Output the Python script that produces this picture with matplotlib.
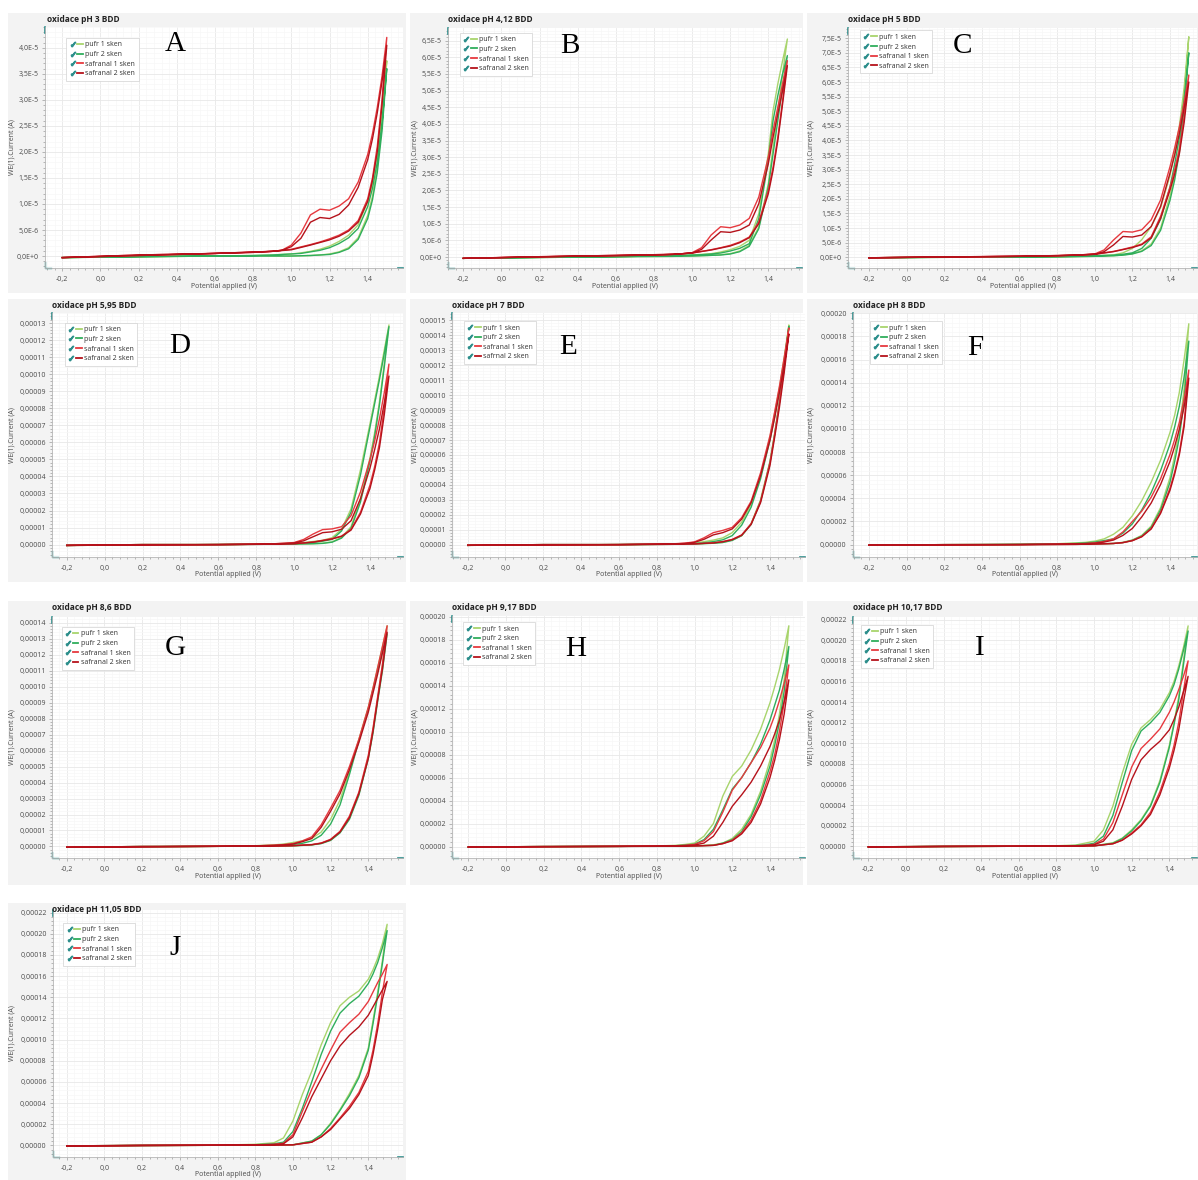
import matplotlib
matplotlib.use("Agg")
import matplotlib.pyplot as plt
from matplotlib.lines import Line2D
from matplotlib.patches import Rectangle
from matplotlib.legend_handler import HandlerTuple
from matplotlib.ticker import MultipleLocator, AutoMinorLocator, FuncFormatter

plt.rcParams["font.family"] = ["Open Sans", "DejaVu Sans"]

FIG_W, FIG_H = 1198, 1180

# sampled potentials (V): forward sweep up to 1.5 V, then the reverse sweep
E_FWD = [-0.2, 0.2, 0.6, 0.8, 0.9, 0.95, 1.0, 1.05, 1.1, 1.15, 1.2, 1.25,
         1.3, 1.35, 1.4, 1.425, 1.45, 1.475, 1.5]
E_REV = [1.5, 1.475, 1.45, 1.425, 1.4, 1.35, 1.3, 1.25, 1.2, 1.15, 1.1,
         1.0, 0.9, 0.6, -0.2]

LABELS = ["pufr 1 sken", "pufr 2 sken", "safranal 1 sken", "safranal 2 sken"]
LABELS_PH7 = ["pufr 1 sken", "pufr 2 sken", "safranal 1 sken", "safrnal 2 sken"]
COLORS = ["#a8d46c", "#2fae5c", "#e6393f", "#b5121b"]

TITLES = ["oxidace pH 3 BDD", "oxidace pH 4,12 BDD", "oxidace pH 5 BDD",
          "oxidace pH 5,95 BDD", "oxidace pH 7 BDD", "oxidace pH 8 BDD",
          "oxidace pH 8,6 BDD", "oxidace pH 9,17 BDD", "oxidace pH 10,17 BDD",
          "oxidace pH 11,05 BDD"]
LETTERS = ["A", "B", "C", "D", "E", "F", "G", "H", "I", "J"]

# currents, rows = pufr 1, pufr 2, safranal 1, safranal 2
# A-C in uA (1e-6 A), D-J in units of 1e-5 A
A_FWD = [[-0.3, -0.1, 0.0, 0.1, 0.2, 0.3, 0.4, 0.6, 0.9, 1.3, 1.9, 2.8, 4.0, 6.0, 10.5, 14.0, 19.5, 27.0, 37.5],
         [-0.3, -0.1, 0.0, 0.1, 0.2, 0.3, 0.4, 0.5, 0.8, 1.1, 1.6, 2.4, 3.5, 5.3, 9.5, 13.0, 18.0, 25.5, 36.0],
         [-0.3, 0.2, 0.5, 0.7, 0.9, 1.1, 2.1, 4.4, 7.9, 9.0, 8.8, 9.6, 11.0, 14.2, 19.5, 23.5, 28.5, 34.5, 42.0],
         [-0.3, 0.2, 0.5, 0.7, 0.9, 1.1, 1.8, 3.4, 6.5, 7.4, 7.2, 8.0, 9.8, 13.2, 18.5, 22.5, 27.5, 33.5, 40.5]]
A_REV = [[37.5, 25.0, 17.0, 11.5, 7.8, 3.5, 1.6, 0.8, 0.4, 0.2, 0.1, 0.0, 0.0, 0.0, -0.3],
         [36.0, 24.0, 16.0, 10.8, 7.2, 3.2, 1.4, 0.7, 0.3, 0.2, 0.1, 0.0, 0.0, 0.0, -0.3],
         [42.0, 30.0, 21.0, 15.0, 11.0, 6.8, 5.0, 4.0, 3.3, 2.7, 2.2, 1.3, 0.9, 0.5, -0.3],
         [40.5, 29.0, 20.0, 14.5, 10.5, 6.5, 4.8, 3.8, 3.1, 2.6, 2.1, 1.2, 0.9, 0.5, -0.3]]

B_FWD = [[-0.4, -0.1, 0.1, 0.3, 0.4, 0.5, 0.6, 0.8, 1.0, 1.5, 2.2, 3.2, 5.0, 13.0, 31.0, 44.0, 52.0, 59.0, 65.5],
         [-0.4, -0.1, 0.1, 0.3, 0.4, 0.5, 0.6, 0.7, 0.9, 1.2, 1.8, 2.6, 4.0, 11.5, 29.0, 41.0, 48.5, 55.0, 60.5],
         [-0.4, 0.1, 0.4, 0.6, 0.8, 1.0, 1.3, 2.8, 6.6, 9.1, 8.8, 9.6, 11.6, 18.0, 30.0, 38.0, 45.0, 52.0, 59.0],
         [-0.4, 0.1, 0.4, 0.6, 0.8, 1.0, 1.2, 2.3, 5.1, 7.6, 7.4, 8.1, 9.6, 16.0, 28.0, 36.0, 43.0, 50.0, 57.5]]
B_REV = [[65.5, 55.0, 44.0, 33.0, 22.0, 9.0, 3.5, 1.8, 1.0, 0.7, 0.5, 0.3, 0.2, 0.1, -0.4],
         [60.5, 51.0, 41.0, 31.0, 21.0, 8.5, 3.2, 1.6, 0.9, 0.6, 0.5, 0.3, 0.2, 0.1, -0.4],
         [59.0, 47.0, 36.0, 27.0, 20.0, 10.5, 6.0, 4.5, 3.5, 2.8, 2.2, 1.2, 0.8, 0.5, -0.4],
         [57.5, 46.0, 35.0, 26.0, 19.0, 10.0, 5.8, 4.3, 3.3, 2.7, 2.1, 1.2, 0.8, 0.5, -0.4]]

C_FWD = [[-0.2, 0.0, 0.1, 0.2, 0.3, 0.4, 0.5, 0.6, 0.8, 1.5, 3.0, 6.0, 10.5, 17.0, 28.0, 36.0, 45.0, 58.0, 75.5],
         [-0.2, 0.0, 0.1, 0.2, 0.3, 0.4, 0.5, 0.6, 0.7, 1.0, 1.5, 3.0, 6.5, 13.0, 24.0, 32.0, 41.0, 54.0, 70.0],
         [-0.2, 0.1, 0.3, 0.5, 0.7, 0.9, 1.1, 2.5, 5.9, 8.8, 8.6, 9.4, 12.8, 19.6, 31.0, 37.5, 44.7, 53.0, 62.4],
         [-0.2, 0.1, 0.3, 0.5, 0.7, 0.9, 1.0, 1.9, 4.2, 7.1, 6.9, 7.6, 10.5, 17.4, 28.8, 35.0, 42.5, 51.0, 60.0]]
C_REV = [[75.5, 55.0, 38.0, 28.0, 21.0, 10.0, 4.5, 2.2, 1.2, 0.8, 0.5, 0.3, 0.2, 0.1, -0.2],
         [70.0, 51.0, 36.0, 26.5, 19.5, 9.2, 4.0, 2.0, 1.1, 0.7, 0.5, 0.3, 0.2, 0.1, -0.2],
         [62.4, 48.0, 37.0, 30.0, 24.0, 14.0, 7.0, 4.5, 3.5, 2.7, 2.0, 1.0, 0.7, 0.3, -0.2],
         [60.0, 46.0, 35.5, 28.5, 23.0, 13.3, 6.6, 4.3, 3.3, 2.6, 1.9, 1.0, 0.7, 0.3, -0.2]]

D_FWD = [[-0.05, 0.0, 0.0, 0.02, 0.04, 0.06, 0.08, 0.12, 0.18, 0.25, 0.4, 0.9, 2.1, 4.4, 7.1, 8.5, 9.9, 11.4, 12.9],
         [-0.05, 0.0, 0.0, 0.02, 0.03, 0.05, 0.06, 0.09, 0.13, 0.2, 0.3, 0.8, 1.9, 4.1, 6.9, 8.3, 9.7, 11.2, 12.8],
         [-0.05, 0.0, 0.0, 0.02, 0.05, 0.08, 0.12, 0.3, 0.62, 0.88, 0.92, 1.05, 1.7, 3.1, 5.0, 6.1, 7.4, 8.9, 10.6],
         [-0.05, 0.0, 0.0, 0.02, 0.05, 0.07, 0.1, 0.22, 0.46, 0.7, 0.75, 0.9, 1.4, 2.7, 4.5, 5.6, 6.8, 8.3, 9.9]]
D_REV = [[12.9, 10.6, 8.4, 6.6, 5.1, 2.7, 1.05, 0.42, 0.16, 0.08, 0.05, 0.03, 0.02, 0.0, -0.05],
         [12.8, 10.4, 8.2, 6.4, 4.9, 2.5, 0.95, 0.38, 0.14, 0.07, 0.05, 0.03, 0.02, 0.0, -0.05],
         [10.6, 8.0, 6.0, 4.6, 3.5, 1.9, 0.9, 0.5, 0.35, 0.25, 0.15, 0.05, 0.02, 0.0, -0.05],
         [9.9, 7.6, 5.7, 4.4, 3.3, 1.8, 0.85, 0.48, 0.33, 0.23, 0.14, 0.05, 0.02, 0.0, -0.05]]

E_FWD_I = [[-0.05, 0.0, 0.0, 0.02, 0.04, 0.06, 0.1, 0.2, 0.3, 0.45, 0.8, 1.5, 2.7, 4.6, 7.2, 8.8, 10.5, 12.5, 14.7],
           [-0.05, 0.0, 0.0, 0.02, 0.03, 0.05, 0.07, 0.12, 0.2, 0.32, 0.6, 1.3, 2.5, 4.4, 7.0, 8.6, 10.3, 12.3, 14.6],
           [-0.05, 0.0, 0.0, 0.03, 0.06, 0.1, 0.18, 0.45, 0.8, 0.95, 1.15, 1.8, 2.9, 4.8, 7.3, 8.9, 10.6, 12.5, 14.5],
           [-0.05, 0.0, 0.0, 0.03, 0.05, 0.08, 0.15, 0.35, 0.65, 0.8, 1.05, 1.7, 2.8, 4.6, 7.0, 8.5, 10.2, 12.0, 14.1]]
E_REV_I = [[14.7, 11.9, 9.6, 7.5, 5.6, 3.0, 1.4, 0.6, 0.3, 0.15, 0.1, 0.04, 0.02, 0.0, -0.05],
           [14.6, 11.8, 9.5, 7.4, 5.5, 2.9, 1.35, 0.6, 0.28, 0.14, 0.09, 0.04, 0.02, 0.0, -0.05],
           [14.5, 11.8, 9.5, 7.4, 5.5, 2.9, 1.4, 0.65, 0.35, 0.2, 0.12, 0.05, 0.02, 0.0, -0.05],
           [14.1, 11.5, 9.2, 7.2, 5.3, 2.8, 1.35, 0.62, 0.33, 0.19, 0.11, 0.05, 0.02, 0.0, -0.05]]

F_FWD = [[-0.05, 0.0, 0.02, 0.08, 0.15, 0.2, 0.3, 0.5, 0.9, 1.5, 2.5, 3.8, 5.4, 7.3, 9.7, 11.2, 13.2, 16.0, 19.1],
         [-0.05, 0.0, 0.02, 0.06, 0.1, 0.15, 0.22, 0.35, 0.5, 1.0, 1.8, 3.0, 4.5, 6.4, 8.7, 10.2, 12.0, 14.5, 17.6],
         [-0.05, 0.0, 0.01, 0.04, 0.07, 0.1, 0.15, 0.28, 0.5, 1.1, 2.0, 2.9, 4.1, 5.7, 7.8, 9.1, 10.6, 12.6, 15.1],
         [-0.05, 0.0, 0.01, 0.04, 0.06, 0.08, 0.12, 0.22, 0.4, 0.8, 1.4, 2.4, 3.6, 5.2, 7.2, 8.5, 10.0, 11.9, 14.4]]
F_REV = [[19.1, 13.5, 10.0, 7.7, 5.8, 3.2, 1.6, 0.8, 0.4, 0.2, 0.1, 0.05, 0.03, 0.01, -0.05],
         [17.6, 12.5, 9.3, 7.2, 5.4, 3.0, 1.5, 0.75, 0.38, 0.18, 0.1, 0.05, 0.03, 0.01, -0.05],
         [15.1, 10.5, 8.0, 6.3, 4.9, 2.8, 1.4, 0.7, 0.35, 0.18, 0.1, 0.05, 0.02, 0.0, -0.05],
         [14.4, 10.2, 7.8, 6.1, 4.7, 2.7, 1.35, 0.68, 0.34, 0.17, 0.1, 0.05, 0.02, 0.0, -0.05]]

G_FWD = [[-0.05, 0.0, 0.01, 0.05, 0.1, 0.15, 0.25, 0.35, 0.5, 0.9, 1.7, 2.9, 4.7, 6.7, 8.7, 9.9, 11.2, 12.5, 13.8],
         [-0.05, 0.0, 0.01, 0.03, 0.05, 0.08, 0.12, 0.2, 0.35, 0.7, 1.4, 2.6, 4.5, 6.6, 8.6, 9.8, 11.0, 12.2, 13.3],
         [-0.05, 0.0, 0.01, 0.04, 0.08, 0.12, 0.18, 0.35, 0.6, 1.35, 2.4, 3.5, 5.0, 6.7, 8.7, 9.9, 11.2, 12.5, 13.8],
         [-0.05, 0.0, 0.01, 0.04, 0.07, 0.1, 0.15, 0.3, 0.5, 1.2, 2.2, 3.3, 4.8, 6.5, 8.4, 9.6, 10.8, 12.1, 13.4]]
G_REV = [[13.8, 11.3, 9.3, 7.3, 5.6, 3.3, 1.8, 0.9, 0.4, 0.2, 0.1, 0.04, 0.02, 0.01, -0.05],
         [13.3, 11.0, 9.1, 7.1, 5.5, 3.2, 1.7, 0.85, 0.38, 0.18, 0.1, 0.04, 0.02, 0.01, -0.05],
         [13.8, 11.4, 9.4, 7.4, 5.7, 3.4, 1.9, 0.95, 0.45, 0.22, 0.12, 0.05, 0.02, 0.01, -0.05],
         [13.4, 11.1, 9.2, 7.2, 5.5, 3.3, 1.8, 0.9, 0.42, 0.2, 0.11, 0.05, 0.02, 0.01, -0.05]]

H_FWD = [[-0.05, 0.0, 0.02, 0.05, 0.1, 0.18, 0.3, 0.9, 2.0, 4.4, 6.1, 7.0, 8.4, 10.2, 12.5, 13.9, 15.4, 17.2, 19.2],
         [-0.05, 0.0, 0.01, 0.04, 0.07, 0.12, 0.2, 0.6, 1.5, 3.2, 5.0, 6.0, 7.3, 8.9, 11.0, 12.3, 13.6, 15.4, 17.4],
         [-0.05, 0.0, 0.01, 0.04, 0.07, 0.1, 0.18, 0.5, 1.3, 3.0, 4.9, 6.0, 7.3, 8.6, 10.3, 11.4, 12.7, 14.2, 15.8],
         [-0.05, 0.0, 0.01, 0.03, 0.05, 0.08, 0.12, 0.3, 0.9, 2.1, 3.5, 4.5, 5.6, 7.0, 8.7, 9.8, 11.0, 12.6, 14.5]]
H_REV = [[19.2, 14.5, 11.5, 9.3, 7.5, 4.8, 2.8, 1.5, 0.7, 0.3, 0.15, 0.05, 0.03, 0.01, -0.05],
         [17.4, 13.5, 10.8, 8.8, 7.0, 4.5, 2.6, 1.3, 0.6, 0.3, 0.1, 0.05, 0.03, 0.01, -0.05],
         [15.8, 12.5, 10.0, 8.0, 6.5, 4.0, 2.3, 1.2, 0.55, 0.25, 0.1, 0.05, 0.02, 0.01, -0.05],
         [14.5, 11.5, 9.3, 7.5, 6.0, 3.7, 2.1, 1.1, 0.5, 0.25, 0.1, 0.05, 0.02, 0.01, -0.05]]

I_FWD = [[-0.05, 0.0, 0.02, 0.06, 0.12, 0.3, 0.5, 1.6, 3.9, 7.1, 9.9, 11.5, 12.3, 13.3, 14.9, 16.0, 17.5, 19.3, 21.4],
         [-0.05, 0.0, 0.01, 0.04, 0.08, 0.15, 0.3, 1.0, 3.0, 6.2, 9.3, 11.2, 12.0, 13.0, 14.6, 15.7, 17.2, 19.0, 20.9],
         [-0.05, 0.0, 0.01, 0.03, 0.06, 0.1, 0.2, 0.7, 2.3, 5.0, 7.7, 9.5, 10.4, 11.4, 13.0, 14.0, 15.2, 16.5, 18.0],
         [-0.05, 0.0, 0.01, 0.03, 0.05, 0.08, 0.15, 0.5, 1.6, 3.9, 6.5, 8.4, 9.4, 10.2, 11.3, 12.3, 13.5, 15.0, 16.5]]
I_REV = [[21.4, 18.0, 14.5, 12.0, 9.8, 6.4, 4.0, 2.6, 1.6, 0.8, 0.35, 0.05, 0.03, 0.01, -0.05],
         [20.9, 17.6, 14.2, 11.8, 9.6, 6.2, 3.9, 2.5, 1.5, 0.75, 0.3, 0.05, 0.03, 0.01, -0.05],
         [18.0, 15.0, 12.0, 9.8, 8.0, 5.3, 3.3, 2.1, 1.3, 0.6, 0.25, 0.05, 0.02, 0.01, -0.05],
         [16.5, 14.0, 11.3, 9.3, 7.6, 5.0, 3.1, 2.0, 1.2, 0.6, 0.25, 0.05, 0.02, 0.01, -0.05]]

J_FWD = [[-0.05, 0.0, 0.02, 0.1, 0.25, 0.7, 2.3, 4.8, 7.0, 9.5, 11.6, 13.2, 14.0, 14.6, 15.7, 16.6, 17.7, 19.1, 20.9],
         [-0.05, 0.0, 0.01, 0.06, 0.15, 0.3, 1.3, 3.5, 6.0, 8.6, 10.8, 12.5, 13.4, 14.1, 15.3, 16.2, 17.3, 18.7, 20.3],
         [-0.05, 0.0, 0.01, 0.05, 0.1, 0.2, 1.0, 3.2, 5.3, 7.2, 9.0, 10.7, 11.6, 12.4, 13.6, 14.5, 15.4, 16.2, 17.1],
         [-0.05, 0.0, 0.01, 0.04, 0.08, 0.15, 0.8, 2.6, 4.6, 6.3, 8.0, 9.4, 10.4, 11.2, 12.3, 13.1, 13.9, 14.7, 15.5]]
J_REV = [[20.9, 17.5, 14.5, 11.8, 9.2, 6.6, 4.9, 3.4, 2.1, 1.0, 0.4, 0.05, 0.03, 0.01, -0.05],
         [20.3, 17.2, 14.2, 11.5, 9.0, 6.4, 4.7, 3.3, 2.0, 1.0, 0.4, 0.05, 0.03, 0.01, -0.05],
         [17.1, 14.5, 11.5, 9.0, 7.0, 5.0, 3.7, 2.6, 1.6, 0.8, 0.3, 0.05, 0.02, 0.01, -0.05],
         [15.5, 13.8, 11.0, 8.6, 6.6, 4.8, 3.5, 2.5, 1.5, 0.8, 0.3, 0.05, 0.02, 0.01, -0.05]]

FWD = [A_FWD, B_FWD, C_FWD, D_FWD, E_FWD_I, F_FWD, G_FWD, H_FWD, I_FWD, J_FWD]
REV = [A_REV, B_REV, C_REV, D_REV, E_REV_I, F_REV, G_REV, H_REV, I_REV, J_REV]
UNIT = [1e-6, 1e-6, 1e-6, 1e-5, 1e-5, 1e-5, 1e-5, 1e-5, 1e-5, 1e-5]
Y_STEP = [5e-6, 5e-6, 5e-6, 1e-5, 1e-5, 2e-5, 1e-5, 2e-5, 2e-5, 2e-5]
Y_LIM = [(-2.3e-6, 4.4e-5), (-3.3e-6, 6.88e-5), (-3.7e-6, 7.85e-5),
         (-7.3e-6, 1.36e-4), (-8.3e-6, 1.55e-4), (-1.07e-5, 2.003e-4),
         (-7.2e-6, 1.435e-4), (-1.0e-5, 2.005e-4), (-1.13e-5, 2.226e-4),
         (-1.1e-5, 2.225e-4)]

# pixel layout of each screenshot panel
# frame (x0, y0, x1, y1), axes (left, right, top, bottom), x of -0.2 and 1.4 ticks,
# title (x, y), letter (x, y), legend anchor in axes fraction
LAYOUT = [
    dict(frame=(8, 13, 406, 293), ax=(45, 403, 27, 268), xcal=(62.3, 367.7), title=(47, 19), letter=(175, 44), leg=(0.06, 0.955)),
    dict(frame=(410, 13, 803, 293), ax=(448, 802, 28, 268), xcal=(463.3, 768.3), title=(448, 19), letter=(570, 46), leg=(0.034, 0.98)),
    dict(frame=(807, 13, 1198, 293), ax=(848, 1197, 28, 268), xcal=(869, 1170), title=(848, 19), letter=(963, 46), leg=(0.034, 0.99)),
    dict(frame=(8, 299, 406, 582), ax=(52, 403, 313, 557), xcal=(66.7, 370), title=(52, 306), letter=(180, 346), leg=(0.037, 0.96)),
    dict(frame=(410, 299, 803, 582), ax=(452, 805, 313, 557), xcal=(467.7, 770), title=(452, 305), letter=(568, 347), leg=(0.034, 0.967)),
    dict(frame=(807, 299, 1198, 582), ax=(853, 1197, 313, 557), xcal=(869, 1170), title=(853, 305), letter=(975, 348), leg=(0.049, 0.967)),
    dict(frame=(8, 601, 406, 885), ax=(52, 403, 617, 858), xcal=(66.7, 368.3), title=(52, 608), letter=(175, 648), leg=(0.028, 0.959)),
    dict(frame=(410, 601, 803, 885), ax=(452, 805, 616, 858), xcal=(468.3, 770), title=(452, 608), letter=(576, 649), leg=(0.031, 0.975)),
    dict(frame=(807, 601, 1198, 885), ax=(853, 1197, 617, 858), xcal=(868.3, 1169.3), title=(853, 608), letter=(980, 648), leg=(0.023, 0.967)),
    dict(frame=(8, 903, 406, 1180), ax=(53, 403, 910, 1157), xcal=(66.7, 368.3), title=(52, 910), letter=(175, 948), leg=(0.029, 0.948)),
]

TEAL = "#2e8f8c"


def sci_label(v, pos):
    if abs(v) < 1e-12:
        return "0,0E+0"
    mant, exp = f"{v:.1E}".split("E")
    exp = int(exp)
    exp_txt = f"+{exp}" if exp >= 0 else str(exp)
    return f"{mant.replace('.', ',')}E{exp_txt}"


def fixed_label(v, pos):
    if abs(v) < 1e-12:
        v = 0.0
    return f"{v:.5f}".replace(".", ",")


def x_label(v, pos):
    if abs(v) < 1e-9:
        v = 0.0
    return f"{v:.1f}".replace(".", ",")


def fx(x):
    return x / FIG_W


def fy(y):
    return 1 - y / FIG_H


fig = plt.figure(figsize=(FIG_W / 100, FIG_H / 100), dpi=100)
fig.patch.set_facecolor("white")

for i, lay in enumerate(LAYOUT):
    x0, y0, x1, y1 = lay["frame"]
    fig.add_artist(Rectangle((fx(x0), fy(y1)), fx(x1 - x0), (y1 - y0) / FIG_H,
                             transform=fig.transFigure, facecolor="#f3f3f3",
                             edgecolor="none", zorder=-5))

    left, right, top, bottom = lay["ax"]
    ax = fig.add_axes([fx(left), fy(bottom), fx(right - left), (bottom - top) / FIG_H])
    ax.set_facecolor("white")

    # x range from the tick calibration of the screenshot
    xa, xb = lay["xcal"]
    px_per_v = (xb - xa) / 1.6
    ax.set_xlim(-0.2 - (xa - left) / px_per_v, 1.4 + (right - xb) / px_per_v)
    ax.set_ylim(*Y_LIM[i])

    labels = LABELS_PH7 if i == 4 else LABELS
    for k in range(4):
        e = E_FWD + E_REV
        cur = [v * UNIT[i] for v in FWD[i][k] + REV[i][k]]
        ax.plot(e, cur, color=COLORS[k], lw=1.0, label=labels[k], zorder=3 + k,
                solid_joinstyle="round")

    for side in ["top", "right"]:
        ax.spines[side].set_visible(False)
    for side in ["left", "bottom"]:
        ax.spines[side].set_color("#b5b5b5")
        ax.spines[side].set_linewidth(0.6)

    ax.xaxis.set_major_locator(MultipleLocator(0.2))
    ax.xaxis.set_minor_locator(AutoMinorLocator(5))
    ax.xaxis.set_major_formatter(FuncFormatter(x_label))
    ax.yaxis.set_major_locator(MultipleLocator(Y_STEP[i]))
    ax.yaxis.set_minor_locator(AutoMinorLocator(5))
    ax.yaxis.set_major_formatter(FuncFormatter(sci_label if i < 3 else fixed_label))

    ax.tick_params(which="both", direction="out", color="#9c9c9c", width=0.5,
                   labelsize=5, labelcolor="#4a4a4a")
    ax.tick_params(which="major", length=2.5)
    ax.tick_params(which="minor", length=1.5)
    ax.tick_params(axis="x", pad=3)
    ax.tick_params(axis="y", pad=2)

    ax.grid(which="major", color="#e8e8e8", lw=0.6)
    ax.grid(which="minor", color="#f7f7f7", lw=0.5)
    ax.set_axisbelow(True)

    w_px = right - left
    h_px = bottom - top
    ax.set_xlabel("Potential applied (V)", fontsize=5, color="#4a4a4a")
    ax.xaxis.set_label_coords(0.5, -14.5 / h_px)
    ax.set_ylabel("WE(1).Current (A)", fontsize=5, color="#4a4a4a")
    ax.yaxis.set_label_coords(-(left - x0 - 8) / w_px, 0.5)

    # little teal end markers of the axes, as in the software screenshots
    ax.plot([0, 0], [1, 1 - 6 / h_px], transform=ax.transAxes, color=TEAL,
            lw=1.2, clip_on=False)
    ax.plot([0, 0, 6 / w_px], [6 / h_px, 0, 0], transform=ax.transAxes,
            color=TEAL, lw=1.0, clip_on=False)
    ax.plot([1 - 5 / w_px, 1], [0, 0], transform=ax.transAxes, color=TEAL,
            lw=1.2, clip_on=False)

    handles = [(Line2D([], [], marker="$✓$", color=TEAL, ls="none", markersize=3.2),
                Line2D([], [], color=c, lw=1.3)) for c in COLORS]
    leg = ax.legend(handles, labels, handler_map={tuple: HandlerTuple(ndivide=None, pad=0.2)},
                    loc="upper left", bbox_to_anchor=lay["leg"], borderaxespad=0,
                    fontsize=5, frameon=True, fancybox=False, framealpha=1,
                    edgecolor="#d2d2d2", handlelength=1.9, handletextpad=0.3,
                    labelspacing=0.38, borderpad=0.5)
    leg.get_frame().set_linewidth(0.5)
    for t in leg.get_texts():
        t.set_color("#333333")

    tx, ty = lay["title"]
    fig.text(fx(tx), fy(ty), TITLES[i], fontsize=6, fontweight="bold",
             color="#222222", ha="left", va="center")
    lx, ly = lay["letter"]
    fig.text(fx(lx), fy(ly), LETTERS[i], fontsize=21, family="Liberation Serif",
             color="black", ha="center", va="center")

fig.savefig("out.png", dpi=100)
